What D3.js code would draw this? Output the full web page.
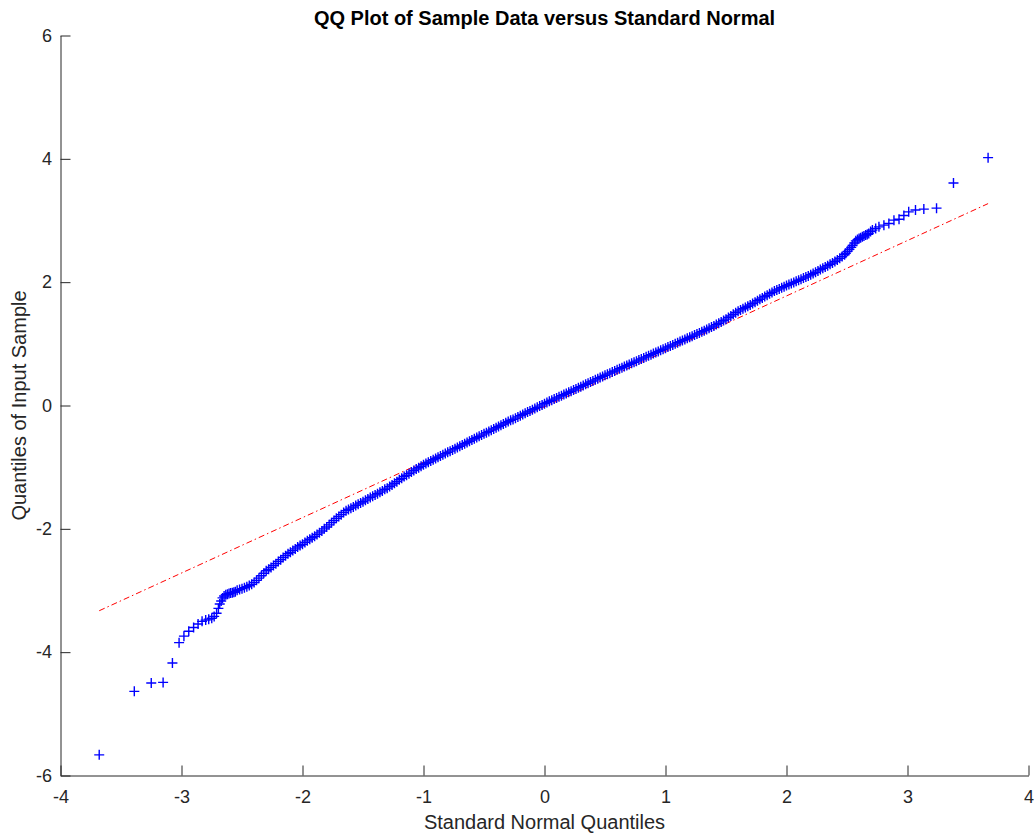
<!DOCTYPE html>
<html>
<head>
<meta charset="utf-8">
<script src="https://cdn.jsdelivr.net/npm/d3@7"></script>
<style>
  html, body { margin: 0; padding: 0; background: #ffffff; }
  svg { display: block; font-family: "Liberation Sans", Arial, Helvetica, sans-serif; }
</style>
</head>
<body>
<svg id="chart" width="1036" height="838"></svg>
<script>
// Text
const titleText = "QQ Plot of Sample Data versus Standard Normal";
const xLabelText = "Standard Normal Quantiles";
const yLabelText = "Quantiles of Input Sample";

// Axis ticks
const xTicks = [-4, -3, -2, -1, 0, 1, 2, 3, 4];
const yTicks = [-6, -4, -2, 0, 2, 4, 6];

// Sorted sample quantiles against standard normal quantiles: [normal, sample]
const lowerTail = [
  [-3.68, -5.665], [-3.39, -4.635], [-3.25, -4.50], [-3.152, -4.49], [-3.075, -4.175],
  [-3.02, -3.846], [-2.98, -3.74], [-2.94, -3.66], [-2.90, -3.60], [-2.863, -3.543],
  [-2.83, -3.50], [-2.80, -3.48], [-2.775, -3.465], [-2.75, -3.45], [-2.73, -3.42],
  [-2.71, -3.37], [-2.695, -3.29], [-2.684, -3.22], [-2.672, -3.17], [-2.661, -3.12],
  [-2.648, -3.09], [-2.634, -3.07], [-2.62, -3.06], [-2.607, -3.05], [-2.594, -3.04],
  [-2.58, -3.035], [-2.567, -3.03], [-2.555, -3.02]
];

const body = [
  [-2.54, -2.995], [-2.52, -2.985], [-2.50, -2.97], [-2.48, -2.955], [-2.46, -2.94],
  [-2.44, -2.92], [-2.42, -2.90], [-2.40, -2.87], [-2.38, -2.835], [-2.36, -2.80],
  [-2.34, -2.76], [-2.32, -2.72], [-2.30, -2.68], [-2.28, -2.655], [-2.26, -2.625],
  [-2.24, -2.595], [-2.22, -2.565], [-2.20, -2.53], [-2.18, -2.50], [-2.16, -2.465],
  [-2.14, -2.435], [-2.12, -2.405], [-2.10, -2.38], [-2.08, -2.35], [-2.06, -2.325],
  [-2.04, -2.295], [-2.02, -2.27], [-2.00, -2.25], [-1.98, -2.22], [-1.96, -2.195],
  [-1.94, -2.17], [-1.92, -2.145], [-1.90, -2.12], [-1.88, -2.09], [-1.86, -2.065],
  [-1.84, -2.035], [-1.82, -2.00], [-1.80, -1.97], [-1.78, -1.935], [-1.76, -1.90],
  [-1.74, -1.865], [-1.72, -1.83], [-1.70, -1.80], [-1.68, -1.77], [-1.66, -1.735],
  [-1.64, -1.705], [-1.62, -1.685], [-1.60, -1.665], [-1.58, -1.645], [-1.56, -1.62],
  [-1.54, -1.60], [-1.52, -1.58], [-1.50, -1.56], [-1.48, -1.535], [-1.46, -1.515],
  [-1.44, -1.49], [-1.42, -1.47], [-1.40, -1.45], [-1.38, -1.43], [-1.36, -1.405],
  [-1.34, -1.385], [-1.32, -1.36], [-1.30, -1.34], [-1.28, -1.315], [-1.26, -1.29],
  [-1.24, -1.26], [-1.22, -1.235], [-1.20, -1.205], [-1.18, -1.18], [-1.16, -1.15],
  [-1.14, -1.13], [-1.12, -1.105], [-1.10, -1.08], [-1.08, -1.055], [-1.06, -1.03],
  [-1.04, -1.01], [-1.02, -0.985], [-1.00, -0.96], [-0.98, -0.94], [-0.96, -0.92],
  [-0.94, -0.90], [-0.92, -0.88], [-0.90, -0.86], [-0.88, -0.84], [-0.86, -0.82],
  [-0.84, -0.80], [-0.82, -0.78], [-0.80, -0.76], [-0.78, -0.74], [-0.76, -0.72],
  [-0.74, -0.70], [-0.72, -0.68], [-0.70, -0.66], [-0.68, -0.64], [-0.66, -0.62],
  [-0.64, -0.60], [-0.62, -0.58], [-0.60, -0.56], [-0.58, -0.54], [-0.56, -0.52],
  [-0.54, -0.50], [-0.52, -0.48], [-0.50, -0.46], [-0.48, -0.44], [-0.46, -0.42],
  [-0.44, -0.40], [-0.42, -0.38], [-0.40, -0.36], [-0.38, -0.34], [-0.36, -0.32],
  [-0.34, -0.30], [-0.32, -0.28], [-0.30, -0.26], [-0.28, -0.24], [-0.26, -0.225],
  [-0.24, -0.205], [-0.22, -0.185], [-0.20, -0.165], [-0.18, -0.145], [-0.16, -0.125],
  [-0.14, -0.105], [-0.12, -0.09], [-0.10, -0.07], [-0.08, -0.05], [-0.06, -0.03],
  [-0.04, -0.01], [-0.02, 0.01], [0.00, 0.03], [0.02, 0.048], [0.04, 0.067],
  [0.06, 0.085], [0.08, 0.104], [0.10, 0.122], [0.12, 0.14], [0.14, 0.159],
  [0.16, 0.177], [0.18, 0.196], [0.20, 0.214], [0.22, 0.232], [0.24, 0.251],
  [0.26, 0.269], [0.28, 0.288], [0.30, 0.306], [0.32, 0.324], [0.34, 0.343],
  [0.36, 0.361], [0.38, 0.38], [0.40, 0.398], [0.42, 0.416], [0.44, 0.435],
  [0.46, 0.453], [0.48, 0.472], [0.50, 0.49], [0.52, 0.508], [0.54, 0.525],
  [0.56, 0.543], [0.58, 0.56], [0.60, 0.578], [0.62, 0.596], [0.64, 0.613],
  [0.66, 0.631], [0.68, 0.648], [0.70, 0.666], [0.72, 0.684], [0.74, 0.701],
  [0.76, 0.719], [0.78, 0.736], [0.80, 0.754], [0.82, 0.772], [0.84, 0.789],
  [0.86, 0.807], [0.88, 0.824], [0.90, 0.842], [0.92, 0.86], [0.94, 0.877],
  [0.96, 0.895], [0.98, 0.912], [1.00, 0.93], [1.02, 0.948], [1.04, 0.965],
  [1.06, 0.983], [1.08, 1.0], [1.10, 1.018], [1.12, 1.036], [1.14, 1.054],
  [1.16, 1.071], [1.18, 1.089], [1.20, 1.107], [1.22, 1.124], [1.24, 1.142],
  [1.26, 1.16], [1.28, 1.177], [1.30, 1.195], [1.32, 1.214], [1.34, 1.233],
  [1.36, 1.252], [1.38, 1.271], [1.40, 1.29], [1.42, 1.312], [1.44, 1.334],
  [1.46, 1.356], [1.48, 1.378], [1.50, 1.40], [1.52, 1.426], [1.54, 1.452],
  [1.56, 1.478], [1.58, 1.504], [1.60, 1.53], [1.62, 1.55], [1.64, 1.57],
  [1.66, 1.59], [1.68, 1.61], [1.70, 1.63], [1.72, 1.653], [1.74, 1.676],
  [1.76, 1.699], [1.78, 1.722], [1.80, 1.745], [1.82, 1.767], [1.84, 1.789],
  [1.86, 1.811], [1.88, 1.833], [1.90, 1.855], [1.92, 1.873], [1.94, 1.891],
  [1.96, 1.909], [1.98, 1.927], [2.00, 1.945], [2.02, 1.962], [2.04, 1.979],
  [2.06, 1.996], [2.08, 2.013], [2.10, 2.03], [2.12, 2.048], [2.14, 2.066],
  [2.16, 2.084], [2.18, 2.102], [2.20, 2.12], [2.22, 2.141], [2.24, 2.162],
  [2.26, 2.183], [2.28, 2.204], [2.30, 2.225], [2.32, 2.246], [2.34, 2.268],
  [2.36, 2.29], [2.38, 2.312], [2.40, 2.335], [2.42, 2.36], [2.44, 2.387],
  [2.46, 2.415], [2.48, 2.445]
];

const upperTail = [
  [2.49, 2.47], [2.505, 2.50], [2.52, 2.535], [2.535, 2.565], [2.546, 2.595],
  [2.56, 2.635], [2.573, 2.67], [2.587, 2.69], [2.60, 2.71], [2.613, 2.72],
  [2.627, 2.735], [2.64, 2.75], [2.654, 2.763], [2.667, 2.775], [2.68, 2.79],
  [2.695, 2.82], [2.71, 2.844], [2.737, 2.87], [2.764, 2.897], [2.805, 2.925],
  [2.846, 2.952], [2.888, 3.006], [2.93, 3.02], [2.97, 3.08], [3.01, 3.14],
  [3.066, 3.17], [3.135, 3.185], [3.24, 3.20], [3.38, 3.608], [3.666, 4.019]
];

// Reference line through the quartiles, spanning the data range
const referenceLine = [[-3.68, -3.328], [3.666, 3.274]];

const points = lowerTail.concat(body, upperTail);

const svg = d3.select("#chart");
const axisColor = "#262626";

const x = d3.scaleLinear().domain([-4, 4]).range([60.5, 1028.5]);
const y = d3.scaleLinear().domain([-6, 6]).range([775.5, 35.5]);

// Reference line (dash-dot red), drawn beneath the markers
svg.append("path")
  .datum(referenceLine)
  .attr("d", d3.line().x(d => x(d[0])).y(d => y(d[1])))
  .attr("fill", "none")
  .attr("stroke", "#ff0000")
  .attr("stroke-width", 1)
  .attr("stroke-dasharray", "6,3,1.5,3");

// Plus markers
const plus = "M-5,0H5M0,-5V5";
svg.append("g")
  .selectAll("path")
  .data(points)
  .join("path")
  .attr("transform", d => `translate(${x(d[0])},${y(d[1])})`)
  .attr("d", plus)
  .attr("fill", "none")
  .attr("stroke", "#0000ff")
  .attr("stroke-width", 1.4);

// Axes with inward ticks; labels use a plain hyphen for negatives
const fmt = d => String(d);
const xAxis = d3.axisBottom(x).tickValues(xTicks).tickFormat(fmt)
  .tickSizeInner(-10).tickSizeOuter(0).tickPadding(15);
const yAxis = d3.axisLeft(y).tickValues(yTicks).tickFormat(fmt)
  .tickSizeInner(-10).tickSizeOuter(0).tickPadding(8.5);

const gx = svg.append("g").attr("transform", "translate(0,775.5)").call(xAxis);
const gy = svg.append("g").attr("transform", "translate(60.5,0)").call(yAxis);

[gx, gy].forEach(g => {
  g.select(".domain").attr("stroke", axisColor).attr("stroke-width", 1);
  g.selectAll(".tick line").attr("stroke", axisColor).attr("stroke-width", 1);
  g.selectAll(".tick text")
    .attr("fill", axisColor)
    .attr("font-size", 18)
    .attr("font-family", "'Liberation Sans', Arial, Helvetica, sans-serif");
});

// Labels and title
svg.append("text")
  .attr("x", x(0)).attr("y", 829)
  .attr("text-anchor", "middle")
  .attr("font-size", 20)
  .attr("fill", axisColor)
  .text(xLabelText);

svg.append("text")
  .attr("transform", `translate(26,${y(0)}) rotate(-90)`)
  .attr("text-anchor", "middle")
  .attr("font-size", 20)
  .attr("fill", axisColor)
  .text(yLabelText);

svg.append("text")
  .attr("x", x(0)).attr("y", 25)
  .attr("text-anchor", "middle")
  .attr("font-size", 20)
  .attr("font-weight", "bold")
  .attr("fill", "#000000")
  .text(titleText);
</script>
</body>
</html>
